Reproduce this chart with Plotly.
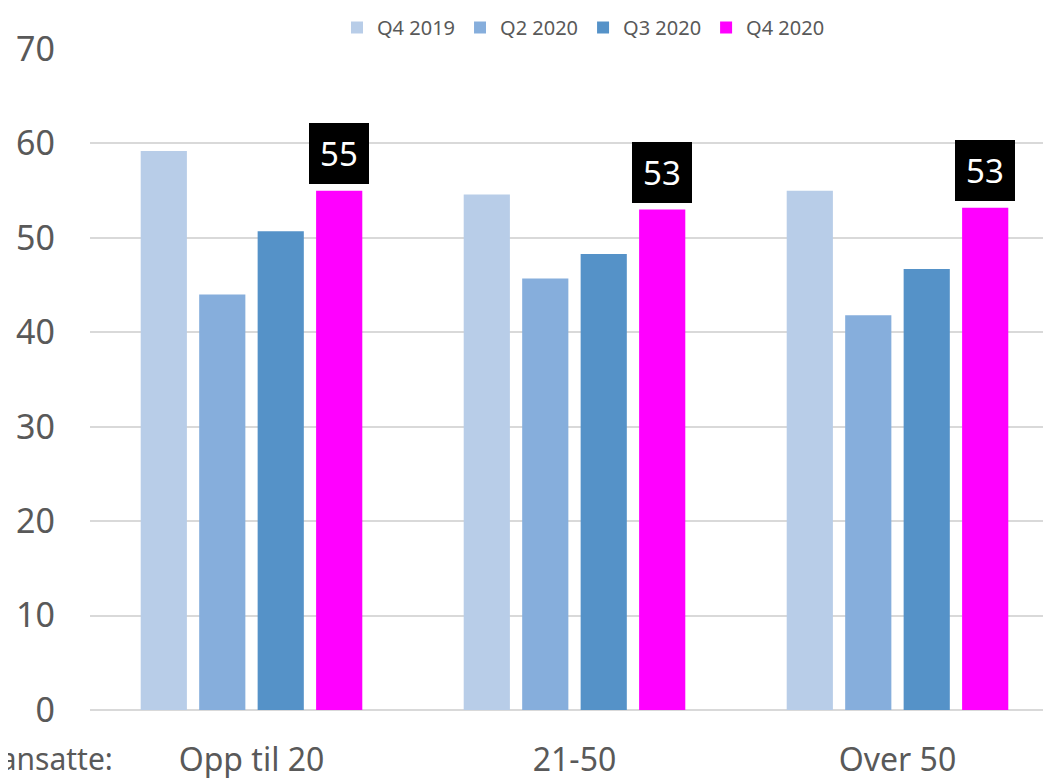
import plotly.graph_objects as go

categories = ["Opp til 20", "21-50", "Over 50"]
series_names = ["Q4 2019", "Q2 2020", "Q3 2020", "Q4 2020"]
q4_2019 = [59.2, 54.6, 55.0]
q2_2020 = [44.0, 45.7, 41.8]
q3_2020 = [50.7, 48.3, 46.7]
q4_2020 = [55.0, 53.0, 53.2]
label_values = ["55", "53", "53"]
y_ticks = [0, 10, 20, 30, 40, 50, 60, 70]

colors = ["#B8CDE8", "#86AEDC", "#5592C8", "#FF00FF"]
series = [q4_2019, q2_2020, q3_2020, q4_2020]

FONT = "Noto Sans, Open Sans, sans-serif"
GREY = "#595959"

# page body has an 8px margin; figure coordinates are offset by it
OFF = 8
W, H = 1051, 778
ml, mt = 90 - OFF, 49 - OFF
mb = H - (710 - OFF)

fig = go.Figure()
for name, vals, c in zip(series_names, series, colors):
    fig.add_trace(go.Bar(x=categories, y=vals, name=name, marker=dict(color=c, line=dict(width=0))))

bargap = 0.276
n = len(series)
slot = (1 - bargap) / n
offset = (1 - bargap) / 2 - slot / 2

for i, (cat, v, lab) in enumerate(zip(categories, q4_2020, label_values)):
    fig.add_annotation(
        x=i + offset, y=v, xref="x", yref="y", text=lab, showarrow=False,
        yanchor="bottom", yshift=7,
        font=dict(family=FONT, size=33, color="white"),
        bgcolor="black", borderpad=9, borderwidth=0, width=42, height=43,
    )

fig.add_annotation(
    x=(115 - OFF - ml) / (W - ml), y=(H - mb - (758 - OFF)) / (H - mt - mb),
    xref="paper", yref="paper", text="Antall ansatte:", showarrow=False,
    xanchor="right", yanchor="middle",
    font=dict(family=FONT, size=30, color=GREY),
)

fig.update_layout(
    width=W, height=H,
    margin=dict(l=ml, r=0, t=mt, b=mb, autoexpand=False),
    paper_bgcolor="white", plot_bgcolor="white",
    barmode="group", bargap=bargap, bargroupgap=0.21,
    font=dict(family=FONT, color=GREY),
    showlegend=True,
    legend=dict(orientation="h", x=(329 - ml) / (W - ml), y=1,
                xanchor="left", yanchor="top", yref="container",
                font=dict(family=FONT, size=20, color=GREY),
                itemwidth=30, tracegroupgap=0, bgcolor="rgba(0,0,0,0)"),
    xaxis=dict(range=[-0.5, 2.5], showgrid=False, showline=False, zeroline=False,
               tickfont=dict(family=FONT, size=32, color=GREY), ticks="", ticklabelstandoff=28),
    yaxis=dict(range=[0, 70], tickvals=y_ticks, showgrid=True, gridcolor="#D9D9D9", gridwidth=1.5,
               zeroline=True, zerolinecolor="#D9D9D9", zerolinewidth=1.5, showline=False,
               tickfont=dict(family=FONT, size=34, color=GREY), ticks="", ticklabelstandoff=34),
)
fig.update_yaxes(automargin=False)
fig.update_xaxes(automargin=False)

fig.write_html("out.html")
